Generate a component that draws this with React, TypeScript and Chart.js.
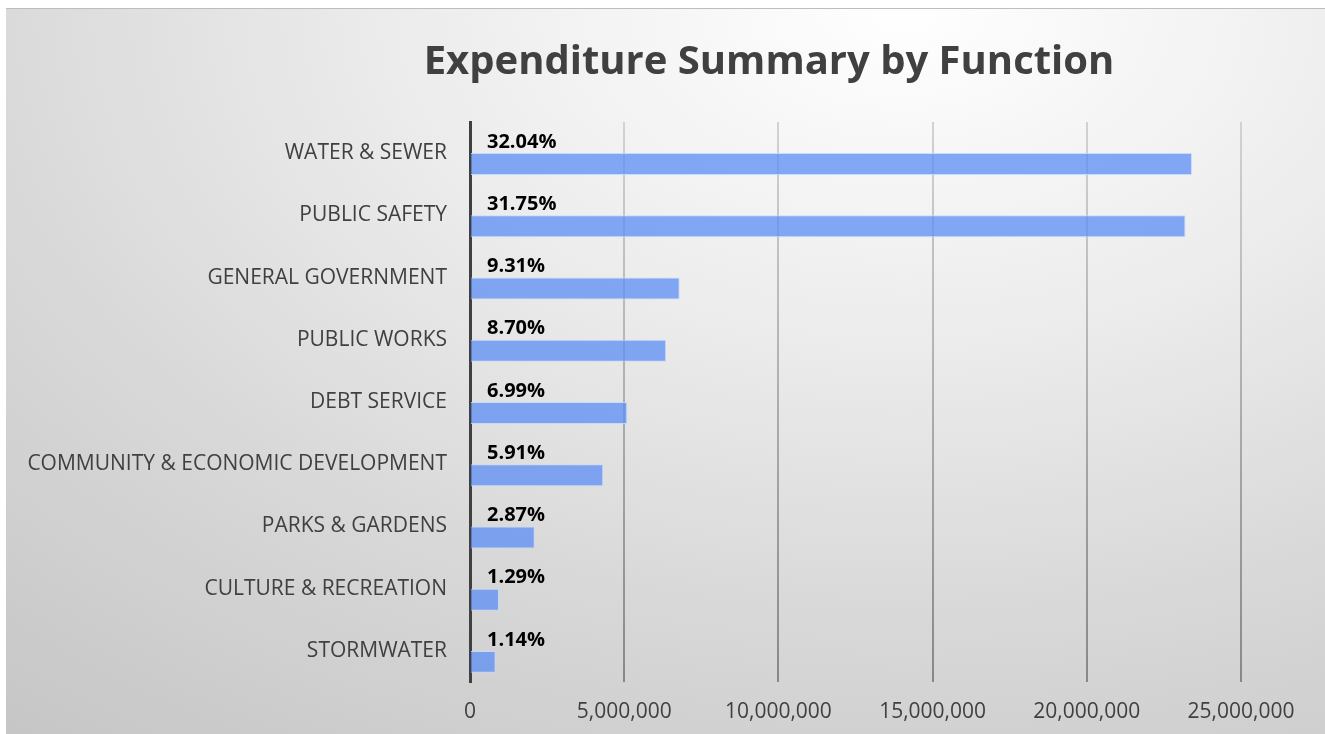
import React, { useEffect, useRef } from "react";
import { Chart, registerables } from "chart.js";

Chart.register(...registerables);

const categories = [
  "WATER & SEWER",
  "PUBLIC SAFETY",
  "GENERAL GOVERNMENT",
  "PUBLIC WORKS",
  "DEBT SERVICE",
  "COMMUNITY & ECONOMIC DEVELOPMENT",
  "PARKS & GARDENS",
  "CULTURE & RECREATION",
  "STORMWATER",
];

const expenditures = [
  23410000, 23200000, 6800000, 6360000, 5100000, 4320000, 2100000, 940000, 830000,
];

const percentLabels = [
  "32.04%", "31.75%", "9.31%", "8.70%", "6.99%", "5.91%", "2.87%", "1.29%", "1.14%",
];

const xTickValues = [0, 5000000, 10000000, 15000000, 20000000, 25000000];

const titleText = "Expenditure Summary by Function";

const FONT = "'Open Sans', 'DejaVu Sans', sans-serif";

export default function App() {
  const canvasRef = useRef<HTMLCanvasElement | null>(null);

  useEffect(() => {
    const canvas = canvasRef.current;
    if (!canvas) return;

    const overlay = {
      id: "overlay",
      afterDatasetsDraw(chart: any) {
        const ctx = chart.ctx;
        const area = chart.chartArea;
        const meta = chart.getDatasetMeta(0);
        ctx.save();
        ctx.fillStyle = "#000000";
        ctx.font = `bold 20px ${FONT}`;
        ctx.textAlign = "left";
        ctx.textBaseline = "middle";
        meta.data.forEach((el: any, i: number) => {
          ctx.fillText(percentLabels[i], area.left + 17, el.y);
        });
        ctx.restore();
      },
      afterDraw(chart: any) {
        const ctx = chart.ctx;
        ctx.save();
        ctx.fillStyle = "#404040";
        ctx.font = `bold 40px ${FONT}`;
        ctx.textAlign = "center";
        ctx.textBaseline = "middle";
        ctx.fillText(titleText, 763, 54);
        ctx.restore();
      },
    };

    const gridColor = (c: any) => {
      const chart = c.chart;
      const area = chart.chartArea;
      if (!area) return "#a0a0a0";
      const g = chart.ctx.createLinearGradient(0, area.top, 0, area.bottom);
      g.addColorStop(0, "#d2d2d2");
      g.addColorStop(1, "#888888");
      return g;
    };

    const chart = new Chart(canvas, {
      type: "bar",
      data: {
        labels: categories,
        datasets: [
          {
            label: "labels",
            data: expenditures,
            backgroundColor: "rgba(0,0,0,0)",
            borderWidth: 0,
            categoryPercentage: 0.706,
            barPercentage: 1,
          },
          {
            label: "Expenditure",
            data: expenditures,
            backgroundColor: "rgba(92,142,244,0.76)",
            borderColor: "rgba(200,215,250,0.9)",
            borderWidth: 1,
            categoryPercentage: 0.706,
            barPercentage: 1,
          },
        ],
      },
      options: {
        indexAxis: "y",
        responsive: false,
        animation: false,
        layout: { padding: { top: 113, left: 0, right: 84, bottom: 0 } },
        plugins: {
          legend: { display: false },
          tooltip: { enabled: false },
          title: { display: false },
        },
        scales: {
          x: {
            min: 0,
            max: 25000000,
            afterBuildTicks: (s: any) => {
              s.ticks = xTickValues.map((v) => ({ value: v }));
            },
            afterFit: (s: any) => {
              s.height = 52;
            },
            border: { display: false },
            grid: {
              display: true,
              drawOnChartArea: true,
              drawTicks: false,
              color: gridColor,
              lineWidth: 2,
            },
            ticks: {
              padding: 17,
              color: "#404040",
              font: { family: FONT, size: 21 },
              callback: (v: any) => Number(v).toLocaleString("en-US"),
            },
          },
          y: {
            afterFit: (s: any) => {
              s.width = 464;
            },
            border: { display: true, color: "#404040", width: 3 },
            grid: { display: false, drawTicks: false },
            ticks: {
              padding: 23,
              color: "#404040",
              font: { family: FONT, size: 21 },
            },
          },
        },
      },
      plugins: [overlay],
    });

    return () => chart.destroy();
  }, []);

  return (
    <div
      style={{
        position: "absolute",
        left: 6,
        top: 8,
        width: 1319,
        height: 726,
        background:
          "radial-gradient(ellipse 110% 130% at 68% 0%, #ffffff 0%, #ececec 35%, #d8d8d8 65%, #c5c5c5 100%)",
        borderTop: "1px solid #bdbdbd",
        boxSizing: "border-box",
      }}
    >
      <canvas ref={canvasRef} width={1319} height={725} style={{ display: "block" }} />
    </div>
  );
}
